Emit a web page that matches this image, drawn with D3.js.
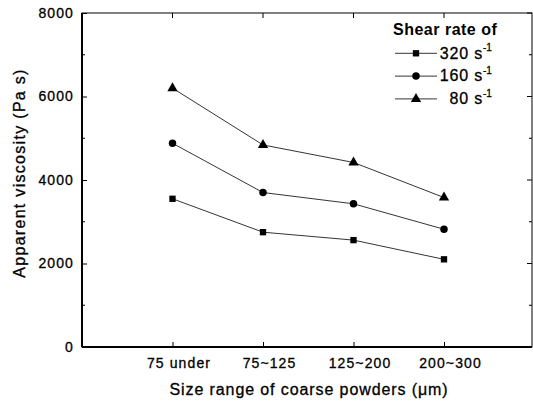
<!DOCTYPE html>
<html>
<head>
<meta charset="utf-8">
<script src="https://cdn.jsdelivr.net/npm/d3@7"></script>
<style>
  body { margin: 0; background: #fff; }
  text { font-family: "Liberation Sans", Arial, sans-serif; fill: #000; stroke: #000; stroke-width: 0.3px; }
</style>
</head>
<body>
<svg id="chart" width="533" height="402"></svg>
<script>
// data
var categories = ["75 under", "75~125", "125~200", "200~300"];
var rate320 = [3550, 2750, 2560, 2100];
var rate160 = [4880, 3700, 3430, 2820];
var rate80 = [6200, 4840, 4420, 3580];
var seriesNames = ["320", "160", "80"];
var yTicks = [0, 2000, 4000, 6000, 8000];

var series = [
  {name: seriesNames[0], values: rate320, symbol: d3.symbolSquare, size: 40},
  {name: seriesNames[1], values: rate160, symbol: d3.symbolCircle, size: 44},
  {name: seriesNames[2], values: rate80, symbol: d3.symbolTriangle, size: 46}
];

var margin = {top: 13, right: 1, bottom: 55, left: 82},
    width = 533 - margin.left - margin.right,
    height = 402 - margin.top - margin.bottom;

var svg = d3.select("#chart");
var g = svg.append("g")
  .attr("transform", "translate(" + margin.left + "," + margin.top + ")");

var x = d3.scaleLinear().domain([0, 5]).range([0, 452.5]);
var y = d3.scaleLinear().domain([0, 8000]).range([height, 0]);

var idx = categories.map(function(d, i) { return i + 1; });

// frame
g.append("rect")
  .attr("width", width).attr("height", height)
  .attr("fill", "none").attr("stroke", "#000").attr("stroke-width", 1);
g.append("line").attr("x1", 0).attr("x2", 0).attr("y1", 0).attr("y2", height)
  .attr("stroke", "#000").attr("stroke-width", 2);
g.append("line").attr("x1", 0).attr("x2", width).attr("y1", height).attr("y2", height)
  .attr("stroke", "#000").attr("stroke-width", 2);

var minor = d3.range(0, 8001, 1000);

// left axis
var yAxis = d3.axisLeft(y)
  .tickValues(yTicks)
  .tickSizeInner(-5)
  .tickSizeOuter(0)
  .tickPadding(8)
  .tickFormat(d3.format("d"));
var ya = g.append("g").call(yAxis);
ya.select(".domain").remove();
ya.selectAll("text")
  .attr("font-size", 14)
  .attr("letter-spacing", 1.1)
  .attr("font-family", "Liberation Sans, Arial, sans-serif");

g.selectAll(".yminor").data(minor.filter(function(d) { return yTicks.indexOf(d) < 0; }))
  .enter().append("line")
  .attr("x1", 0).attr("x2", 3)
  .attr("y1", function(d) { return y(d); }).attr("y2", function(d) { return y(d); })
  .attr("stroke", "#000");

// right side ticks
g.selectAll(".yright").data(minor)
  .enter().append("line")
  .attr("x1", width).attr("x2", function(d) { return width - (d % 2000 === 0 ? 5 : 3); })
  .attr("y1", function(d) { return y(d); }).attr("y2", function(d) { return y(d); })
  .attr("stroke", "#000");

// bottom axis
var xAxis = d3.axisBottom(x)
  .tickValues(idx)
  .tickSizeInner(-5)
  .tickSizeOuter(0)
  .tickPadding(11)
  .tickFormat(function(d) { return categories[d - 1]; });
var xa = g.append("g").attr("transform", "translate(0," + height + ")").call(xAxis);
xa.select(".domain").remove();
xa.selectAll("text")
  .attr("font-size", 14)
  .attr("letter-spacing", 1.1)
  .attr("dx", 6)
  .attr("font-family", "Liberation Sans, Arial, sans-serif");

// top ticks
g.selectAll(".xtop").data(idx)
  .enter().append("line")
  .attr("x1", function(d) { return x(d); }).attr("x2", function(d) { return x(d); })
  .attr("y1", 0).attr("y2", 5)
  .attr("stroke", "#000");

// lines and markers
var line = d3.line()
  .x(function(d, i) { return x(idx[i]); })
  .y(function(d) { return y(d); });

series.forEach(function(s) {
  g.append("path")
    .datum(s.values)
    .attr("d", line)
    .attr("fill", "none")
    .attr("stroke", "#000")
    .attr("stroke-width", 0.8);
  g.selectAll(null).data(s.values)
    .enter().append("path")
    .attr("d", d3.symbol().type(s.symbol).size(s.size))
    .attr("transform", function(d, i) { return "translate(" + x(idx[i]) + "," + y(d) + ")"; })
    .attr("fill", "#000");
});

// axis titles
svg.append("text")
  .attr("transform", "translate(309,395)")
  .attr("text-anchor", "middle")
  .attr("font-size", 16)
  .attr("letter-spacing", 0.9)
  .text("Size range of coarse powders (\u03bcm)");

svg.append("text")
  .attr("transform", "translate(24.5,173) rotate(-90)")
  .attr("text-anchor", "middle")
  .attr("font-size", 16)
  .attr("letter-spacing", 1.3)
  .text("Apparent viscosity (Pa  s)");

// legend
var legend = svg.append("g");
legend.append("text")
  .attr("x", 393).attr("y", 35)
  .attr("font-size", 16).attr("font-weight", "bold")
  .attr("letter-spacing", 0.5)
  .style("stroke-width", "0px")
  .text("Shear rate of");

series.forEach(function(s, i) {
  var ly = 53.3 + i * 22.8;
  var row = legend.append("g");
  row.append("line")
    .attr("x1", 395).attr("x2", 437).attr("y1", ly).attr("y2", ly)
    .attr("stroke", "#000").attr("stroke-width", 0.8);
  row.append("path")
    .attr("d", d3.symbol().type(s.symbol).size(s.size))
    .attr("transform", "translate(416," + ly + ")")
    .attr("fill", "#000");
  row.append("text")
    .attr("x", 483).attr("y", ly + 5.3)
    .attr("text-anchor", "end")
    .attr("font-size", 16)
    .attr("letter-spacing", 0.8)
    .text(s.name + " s");
  row.append("text")
    .attr("x", 483).attr("y", ly - 2)
    .attr("font-size", 10)
    .text("-1");
});
</script>
</body>
</html>
